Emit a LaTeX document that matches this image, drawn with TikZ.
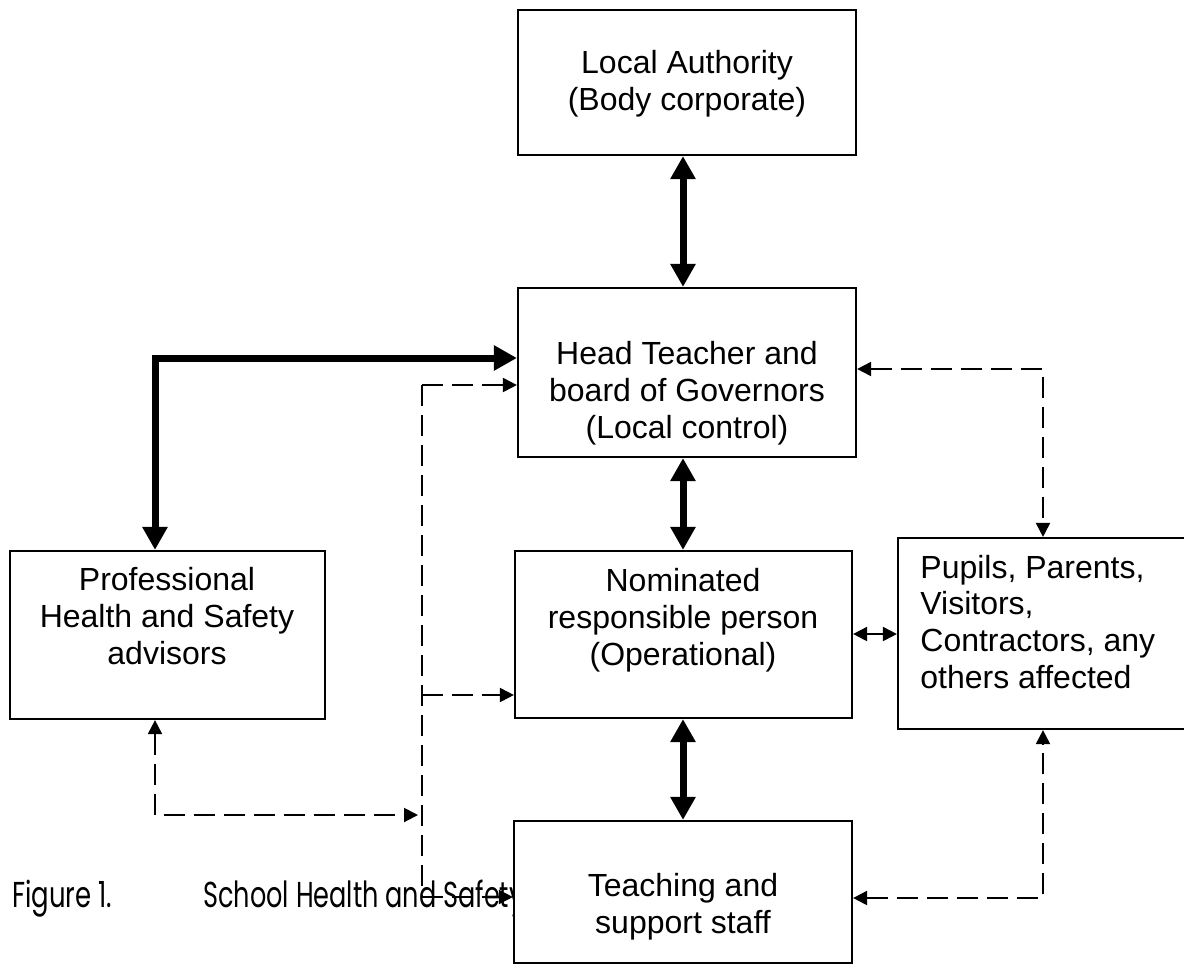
\documentclass[tikz,border=0pt]{standalone}
\usepackage{fontspec}
\setmainfont{Liberation Sans}
\newfontfamily\capfont{Poppins}
\usetikzlibrary{arrows.meta,calc}
\begin{document}
\begin{tikzpicture}[x=0.5pt,y=-0.5pt,
  box/.style={draw, line width=1.1pt, fill=white, inner sep=0pt},
  lbl/.style={font=\fontsize{16}{18.3}\selectfont, align=center, inner sep=0pt, anchor=base},
  captxt/.style={font=\capfont\fontsize{18}{20}\selectfont, inner sep=0pt, anchor=base west},
  thk/.style={line width=3.5pt, {Triangle[length=11.5pt,width=12pt]}-{Triangle[length=11.5pt,width=12pt]}},
  dsh/.style={line width=1pt, dash pattern=on 10.5pt off 4.5pt},
  dend/.style={-{Triangle[length=7pt,width=7pt]}},
  dboth/.style={{Triangle[length=7pt,width=7pt]}-{Triangle[length=7pt,width=7pt]}}
]
\useasboundingbox (0,0) rectangle (1184,966);
\fill[white] (0,0) rectangle (1184,966);
\clip (0,0) rectangle (1184,966);

% caption (partly hidden by the Teaching box)
\node[captxt] (cap1) at (12,907) {\scalebox{0.72}[1]{Figure 1.}};
\node[captxt] (cap2) at (203,907) {\scalebox{0.71}[1]{School Health and Safety}};

% boxes
\node[box, minimum width=169pt, minimum height=72.5pt] (la) at (687,82.5) {};
\node[box, minimum width=169pt, minimum height=84.5pt] (ht) at (687,372.5) {};
\node[box, minimum width=168.5pt, minimum height=83.5pt] (nom) at (683.5,634.5) {};
\node[box, minimum width=169pt, minimum height=71pt] (teach) at (683,892) {};
\node[box, minimum width=157.5pt, minimum height=84pt] (prof) at (167.5,635) {};
\node[box, minimum width=148.5pt, minimum height=95.5pt] (pup) at (1046.5,633.5) {};

% labels (anchor = baseline of the last line)
\node[lbl] (lat) at (687,110) {Local Authority\\(Body corporate)};
\node[lbl] (htt) at (687,438) {Head Teacher and\\board of Governors\\(Local control)};
\node[lbl] (nomt) at (683,665) {Nominated\\responsible person\\(Operational)};
\node[lbl] (teacht) at (683,933) {Teaching and\\support staff};
\node[lbl] (proft) at (167,664) {Professional\\Health and Safety\\advisors};
\node[lbl, align=left, anchor=base west] (pupt) at (920,688) {Pupils, Parents,\\Visitors,\\Contractors, any\\others affected};

% thick connectors
\coordinate (ax) at (683,0);
\draw[thk] (la.south -| ax) -- (ht.north -| ax);
\draw[thk] (ht.south -| ax) -- (nom.north -| ax);
\draw[thk] (nom.south -| ax) -- (teach.north -| ax);
\coordinate (pk) at (155,358);
\draw[thk] (prof.north -| pk) -- (pk) -- (pk -| ht.west);

% dashed connectors on the left
\coordinate (v1) at (422,385);
\coordinate (v2) at (422,695);
\coordinate (v3) at (422,897);
\coordinate (v4) at (418,815);
\draw[dsh] (v1) -- (v3);
\draw[dsh, dend] (v1) -- (v1 -| ht.west);
\draw[dsh, dend] (v2) -- (v2 -| nom.west);
\draw[dsh, dend] (v3) -- (v3 -| teach.west);
\draw[dsh, dboth] (prof.south -| pk) |- (v4);

% dashed connectors on the right
\coordinate (r1) at (1043,369);
\coordinate (r2) at (1043,898);
\draw[dsh, dboth] (r1 -| ht.east) -- (r1) -- (pup.north -| r1);
\draw[dsh, dboth] (r2 -| teach.east) -- (r2) -- (pup.south -| r1);

% small solid double arrow
\coordinate (m) at (0,634);
\draw[line width=1pt, dboth] (m -| nom.east) -- (m -| pup.west);
\end{tikzpicture}
\end{document}
